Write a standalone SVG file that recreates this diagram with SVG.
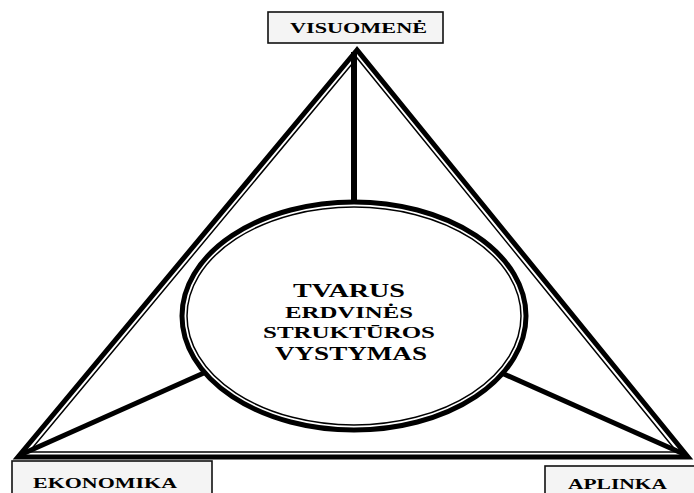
<svg xmlns="http://www.w3.org/2000/svg" width="694" height="493" viewBox="0 0 694 493">
<style>
.lbl{font-family:"Liberation Serif","Times New Roman",serif;font-weight:bold;fill:#000;}
.box{fill:#f4f4f4;stroke:#111;stroke-width:1.6;}
.thick{fill:none;stroke:#000;stroke-width:5;stroke-linejoin:miter;}
.thin{fill:none;stroke:#000;stroke-width:1.5;}
</style>
<rect width="694" height="493" fill="#fff"/>
<g id="connectors">
<polygon class="thick" points="357,50 18,457 688,457"/>
<polygon class="thin" points="357,58 29,452 677,452"/>
<line x1="354" y1="52" x2="354" y2="210" stroke="#000" stroke-width="6"/>
<line x1="215" y1="368" x2="20" y2="455" stroke="#000" stroke-width="5"/>
<line x1="495" y1="370" x2="686" y2="455" stroke="#000" stroke-width="5"/>
</g>
<g id="center">
<ellipse cx="354" cy="316" rx="172" ry="114" fill="#fff" stroke="#000" stroke-width="5"/>
<ellipse cx="354" cy="316" rx="167" ry="109" class="thin"/>
<text class="lbl" x="293" y="297" font-size="18" textLength="112" lengthAdjust="spacingAndGlyphs">TVARUS</text>
<text class="lbl" x="285" y="318" font-size="16" textLength="128" lengthAdjust="spacingAndGlyphs">ERDVINĖS</text>
<text class="lbl" x="263" y="338" font-size="16" textLength="172" lengthAdjust="spacingAndGlyphs">STRUKTŪROS</text>
<text class="lbl" x="275" y="360" font-size="18" textLength="152" lengthAdjust="spacingAndGlyphs">VYSTYMAS</text>
</g>
<g id="visuomene">
<rect class="box" x="268" y="12" width="175" height="31"/>
<text class="lbl" x="290" y="33" font-size="15" textLength="137" lengthAdjust="spacingAndGlyphs">VISUOMENĖ</text>
</g>
<g id="ekonomika">
<rect class="box" x="12" y="461" width="200" height="40"/>
<text class="lbl" x="33" y="488" font-size="15" textLength="144" lengthAdjust="spacingAndGlyphs">EKONOMIKA</text>
</g>
<g id="aplinka">
<rect class="box" x="545" y="466" width="160" height="40"/>
<text class="lbl" x="568" y="489" font-size="15" textLength="99" lengthAdjust="spacingAndGlyphs">APLINKA</text>
</g>
</svg>
